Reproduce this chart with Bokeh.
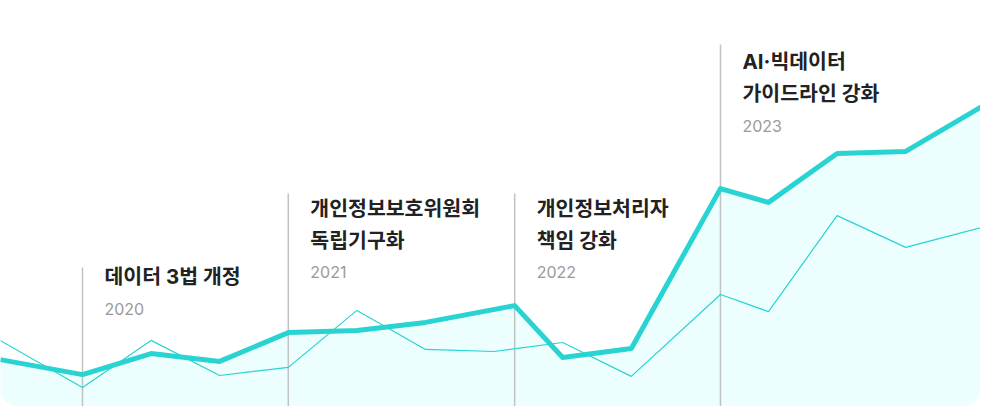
import numpy as np
from bokeh.plotting import figure
from bokeh.models import Range1d
from bokeh.core.properties import value
from bokeh.embed import file_html
from bokeh.resources import INLINE

# ---- data ----
periods_main = [-0.2, 1, 2, 3, 4, 5, 6, 7.3, 8, 9, 10.3, 11, 12, 13, 14.21]
values_main = [18.3, 13.3, 20.3, 17.7, 27.3, 28.0, 30.7, 36.3, 19.0, 22.0, 75.3, 70.7, 87.0, 87.7, 104.0]
periods_sub = [-0.2, 1, 2, 3, 4, 5, 6, 7, 8, 9, 10.3, 11, 12, 13, 14.21]
values_sub = [24.7, 9.0, 24.7, 13.0, 15.7, 34.7, 21.7, 21.0, 24.0, 12.7, 40.0, 34.3, 66.3, 55.7, 63.0]

event_x = [1.0, 4.0, 7.3, 10.3]
event_titles = [
    ["데이터 3법 개정"],
    ["개인정보보호위원회", "독립기구화"],
    ["개인정보처리자", "책임 강화"],
    ["AI·빅데이터", "가이드라인 강화"],
]
event_years = ["2020", "2021", "2022", "2023"]

# ---- layout ----
W, H = 980, 406
x_lo, x_hi = -0.1953, 14.0904
y_lo, y_hi = 2.667, 138.0
sx = W / (x_hi - x_lo)
sy = H / (y_hi - y_lo)
anno_top = [49.0, 73.7, 73.7, 123.3]       # where each marker line starts
title_first = [9, 15, 15, 17]               # px below the marker top
line_gap = 32

ACCENT = "#29d3d2"
FILL = "#ecfefe"
TITLE_FONT = value("Inter, Noto Sans CJK KR")

p = figure(width=W, height=H, output_backend="svg", toolbar_location=None,
           x_range=Range1d(x_lo, x_hi), y_range=Range1d(y_lo, y_hi),
           min_border=0, outline_line_color=None,
           background_fill_color="white", border_fill_color="white")
p.axis.visible = False
p.grid.visible = False

# area under main series
p.varea(x=periods_main, y1=[y_lo - 5] * len(periods_main), y2=values_main, fill_color=FILL)

# rounded bottom corners (white masks)
r = 18.0
t = np.linspace(0, np.pi / 2, 20)
cx, cy = x_lo + r / sx, y_lo + r / sy
xs = [x_lo - 1] + list(cx - (r / sx) * np.cos(t)) + [cx, x_lo - 1]
ys = [y_lo + r / sy] + list(cy - (r / sy) * np.sin(t)) + [y_lo - 5, y_lo - 5]
p.patch(xs, ys, fill_color="white", line_color=None)
cx2 = x_hi - r / sx
xs2 = [x_hi + 1] + list(cx2 + (r / sx) * np.cos(t)) + [cx2, x_hi + 1]
p.patch(xs2, ys, fill_color="white", line_color=None)

# event marker lines
p.segment(x0=event_x, y0=anno_top, x1=event_x, y1=[y_lo - 5] * len(event_x),
          line_color="#bfc3c2", line_width=1.5)

# series lines
p.line(periods_sub, values_sub, line_color=ACCENT, line_width=1.2)
p.line(periods_main, values_main, line_color=ACCENT, line_width=5, line_join="round")

# annotations
for i in range(len(event_x)):
    lines = event_titles[i]
    for j, txt in enumerate(lines):
        p.text(x=[event_x[i]], y=[anno_top[i]], text=[txt],
               x_offset=22, y_offset=title_first[i] + line_gap * j,
               text_font=TITLE_FONT, text_font_style="bold",
               text_font_size="20.5px", text_color="#222222",
               text_align="left", text_baseline="middle")
    p.text(x=[event_x[i]], y=[anno_top[i]], text=[event_years[i]],
           x_offset=22, y_offset=title_first[i] + line_gap * len(lines),
           text_font=value("Inter"), text_font_size="16px", text_color="#9a9a9a",
           text_align="left", text_baseline="middle")

open("out.html", "w").write(file_html(p, INLINE))
